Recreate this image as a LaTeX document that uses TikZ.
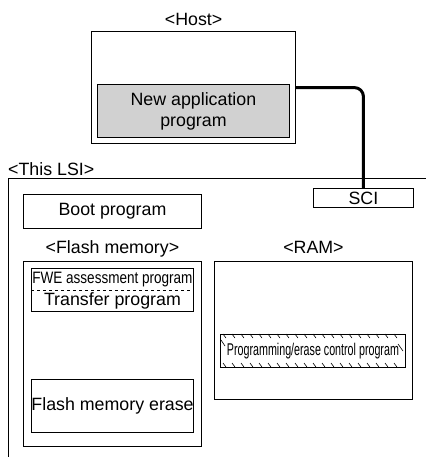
\documentclass[tikz,border=0pt]{standalone}
\usepackage{fontspec}
\setmainfont{Liberation Sans}
\newfontfamily\fwefont[FakeStretch=0.82]{Liberation Sans}
\newfontfamily\progfont[FakeStretch=0.63]{Liberation Sans}
\definecolor{appgray}{gray}{0.82}
\tikzset{
  box/.style={draw, line width=0.9pt, inner sep=0pt, anchor=north west},
  lbl/.style={inner sep=0pt, anchor=base},
  tick/.style={line width=0.6pt}
}
\begin{document}
\begin{tikzpicture}[x=1pt, y=-1pt, font=\fontsize{17.8}{21}\selectfont]
\useasboundingbox (0,0) rectangle (426,459);
\node[box, line width=1.2pt, minimum width=204, minimum height=112] (host) at (91,31) {};
\node[lbl] (hostlbl) at ([yshift=6pt]host.north) {<Host>};
\node[box, fill=appgray, minimum width=192, minimum height=53, align=center] (app) at (97,84) {New application\\program};

\coordinate (lsi) at (8,178);
\draw[line width=0.9pt] (426,178) -- (lsi) -- (8,457);
\node[lbl, anchor=base west] (lsilbl) at ([yshift=3pt]lsi) {<This LSI>};

\node[box, minimum width=100, minimum height=19] (sci) at (313,188) {SCI};
\draw[line width=3pt, rounded corners=9pt] (host.east) -| (sci.north);

\node[box, minimum width=178, minimum height=34] (boot) at (23,194) {Boot program};

\node[box, minimum width=178, minimum height=185] (flash) at (23,261) {};
\node[lbl] (flashlbl) at ([yshift=8pt]flash.north) {<Flash memory>};
\node[box, minimum width=162, minimum height=43] (fwe) at (31,268) {};
\draw[line width=0.7pt, dashed] (fwe.west) -- (fwe.east);
\node[lbl] (fwetxt) at ([yshift=6.5pt]fwe.center) {\fwefont\fontsize{16.5}{19}\selectfont FWE assessment program};
\node[lbl] (transtxt) at ([yshift=-15.5pt]fwe.center) {Transfer program};
\node[box, minimum width=162, minimum height=53] (erase) at (31,379) {Flash memory erase};

\node[box, minimum width=198, minimum height=138] (ram) at (214,261) {};
\node[lbl] (ramlbl) at ([yshift=8pt]ram.north) {<RAM>};
\node[box, minimum width=185, minimum height=33] (prog) at (220,334) {\progfont\fontsize{17}{20}\selectfont Programming/erase control program};
\foreach \x in {223,232,...,396} {
  \draw[tick] (\x,334) -- ++(3,4);
  \draw[tick] (\x,363) -- ++(3,4);
}
\draw[tick] (221,340) -- ++(4,6);
\draw[tick] (398,344) -- ++(5,7);
\end{tikzpicture}
\end{document}
